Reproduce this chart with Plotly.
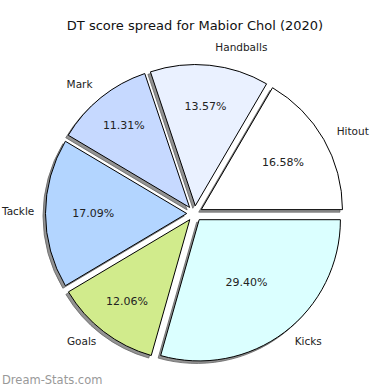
import plotly.graph_objects as go

labels = ["Hitout", "Handballs", "Mark", "Tackle", "Goals", "Kicks"]
values = [16.58, 13.57, 11.31, 17.09, 12.06, 29.40]
colors = ["#FFFFFF", "#EAF1FF", "#C6D9FF", "#B3D5FF", "#D1EB8C", "#DBFFFF"]
title = "DT score spread for Mabior Chol (2020)"
watermark = "Dream-Stats.com"

W = H = 390
pull = [0.055] * len(values)
cx, cy, half = 194.5, 213.5, 149
x0, x1 = (cx - half) / W, (cx + half) / W
y0, y1 = 1 - (cy + half) / H, 1 - (cy - half) / H
ocx, ocy, ho = cx + 1.5, cy - 2.5, half * 1.065
ox0, ox1 = (ocx - ho) / W, (ocx + ho) / W
oy0, oy1 = 1 - (ocy + ho) / H, 1 - (ocy - ho) / H
sdx, sdy = -2.5 / W, -2.5 / H
# first wedge starts at 3 o'clock, counterclockwise (matplotlib default)
rot = 90 - 360 * values[0] / sum(values)

common = dict(
    labels=labels, values=values, sort=False, direction="counterclockwise",
    rotation=rot, pull=pull, showlegend=False, hoverinfo="skip", automargin=False,
)

shadow = go.Pie(
    **common,
    domain=dict(x=[x0 + sdx, x1 + sdx], y=[y0 + sdy, y1 + sdy]),
    marker=dict(colors=["rgba(120,120,120,0.8)"] * len(values),
                line=dict(color="rgba(100,100,100,0.8)", width=1)),
    textinfo="none",
)
main = go.Pie(
    **common,
    domain=dict(x=[x0, x1], y=[y0, y1]),
    marker=dict(colors=colors, line=dict(color="black", width=1)),
    texttemplate="%{percent:.2%}", textposition="inside", insidetextorientation="horizontal",
    textfont=dict(family="DejaVu Sans", size=11, color="#222"),
)
outer = go.Pie(
    **common,
    domain=dict(x=[max(ox0, 0), min(ox1, 1)], y=[max(oy0, 0), min(oy1, 1)]),
    marker=dict(colors=["rgba(0,0,0,0)"] * len(values), line=dict(width=0)),
    textinfo="label", textposition="outside",
    textfont=dict(family="DejaVu Sans", size=10.5, color="#222"),
)

fig = go.Figure([shadow, main, outer])
fig.update_layout(
    width=W, height=H, margin=dict(l=0, r=0, t=0, b=0, autoexpand=False),
    paper_bgcolor="white", plot_bgcolor="white",
    title=dict(text=title, x=0.5, xanchor="center", y=1 - 25 / H, yanchor="middle",
               font=dict(family="DejaVu Sans", size=13, color="#111")),
    annotations=[dict(text=watermark, x=0, y=1 - 380 / H, xref="paper", yref="paper",
                      xanchor="left", yanchor="middle", showarrow=False,
                      font=dict(family="DejaVu Sans", size=11.5, color="#999"))],
)
fig.write_html("out.html")
